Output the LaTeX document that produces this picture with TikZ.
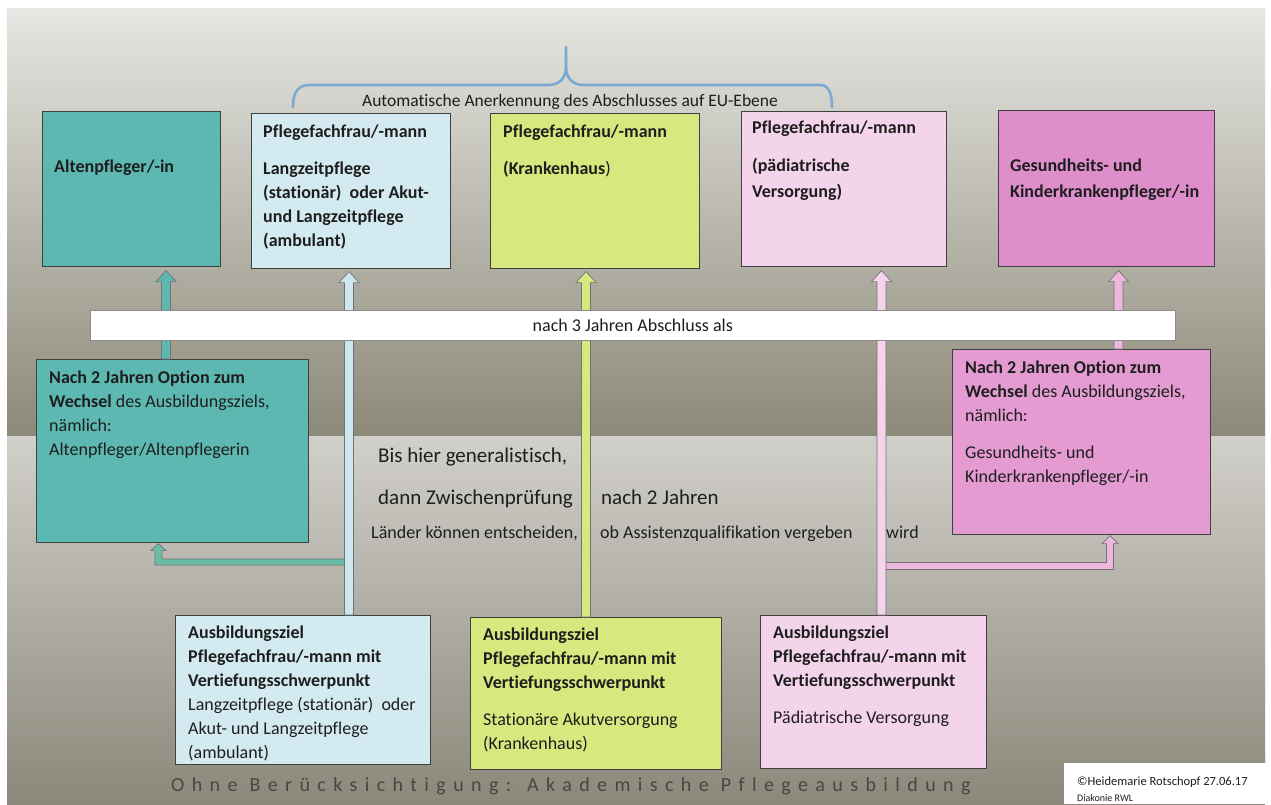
\documentclass[tikz,border=0pt]{standalone}
\usepackage{fontspec}
\setmainfont{Carlito}[Ligatures={TeX,NoCommon}]
\usetikzlibrary{positioning,calc}

\definecolor{bgTop}{HTML}{E6E6E2}
\definecolor{bgMid}{HTML}{C6C2B6}
\definecolor{bgBot}{HTML}{8D8979}
\definecolor{lowTop}{HTML}{EFEFEC}
\definecolor{lowMid}{HTML}{D3D1CA}
\definecolor{lowBot}{HTML}{8C887B}
\definecolor{tealC}{HTML}{5DB8B1}
\definecolor{tealA}{HTML}{68BFA9}
\definecolor{blueC}{HTML}{D4EAF1}
\definecolor{blueA}{HTML}{CDE7EE}
\definecolor{limeC}{HTML}{D6E87E}
\definecolor{pinkL}{HTML}{F4D4EA}
\definecolor{pinkD}{HTML}{DE8FCB}
\definecolor{pinkM}{HTML}{E49BD2}
\definecolor{pinkA}{HTML}{EDB6DD}
\definecolor{braceC}{HTML}{7AAAD2}
\definecolor{textC}{HTML}{1E1E1E}
\definecolor{ohneC}{HTML}{4A4640}

\tikzset{
  box/.style={draw=black!75, line width=0.6pt, anchor=north west, inner sep=0pt},
  txt/.style={font=\fontsize{18}{24}\selectfont, text=textC, inner sep=0pt, align=left,
    execute at begin node={\strut}},
  mid/.style={txt, font=\fontsize{21}{24}\selectfont},
  brace/.style={draw=braceC, line width=2.6pt, line cap=round},
  % block arrow going up, from start to tip
  uparr/.style={draw=black!55, line width=0.7pt, fill=#1, to path={
    let \p1=(\tikztostart), \p2=(\tikztotarget) in
    ({\x1-4.5pt},\y1) -- ({\x1-4.5pt},{\y2-11pt}) -- ({\x1-10pt},{\y2-11pt}) -- (\x1,\y2)
    -- ({\x1+10pt},{\y2-11pt}) -- ({\x1+4.5pt},{\y2-11pt}) -- ({\x1+4.5pt},\y1) -- cycle}},
  % bent block arrows, first sideways then up
  lleft/.style={draw=black!55, line width=0.7pt, fill=#1, to path={
    let \p1=(\tikztostart), \p2=(\tikztotarget) in
    (\x1,{\y1+3pt}) -- ({\x2+3.5pt},{\y1+3pt}) -- ({\x2+3.5pt},{\y2-7pt}) -- ({\x2+7.5pt},{\y2-7pt})
    -- (\x2,\y2) -- ({\x2-7.5pt},{\y2-7pt}) -- ({\x2-3.5pt},{\y2-7pt}) -- ({\x2-3.5pt},{\y1-3pt})
    -- (\x1,{\y1-3pt}) -- cycle}},
  lright/.style={draw=black!55, line width=0.7pt, fill=#1, to path={
    let \p1=(\tikztostart), \p2=(\tikztotarget) in
    (\x1,{\y1+3.5pt}) -- ({\x2-3.5pt},{\y1+3.5pt}) -- ({\x2-3.5pt},{\y2-8pt}) -- ({\x2-8pt},{\y2-8pt})
    -- (\x2,\y2) -- ({\x2+8pt},{\y2-8pt}) -- ({\x2+3.5pt},{\y2-8pt}) -- ({\x2+3.5pt},{\y1-3.5pt})
    -- (\x1,{\y1-3.5pt}) -- cycle}},
}

\begin{document}
\begin{tikzpicture}[x=1pt,y=-1pt]
\useasboundingbox[fill=white] (0,0) rectangle (1271,804);
% background
\shade[top color=bgTop, middle color=bgMid, bottom color=bgBot] (7,8) rectangle (1265,436);
\shade[top color=lowTop, middle color=lowMid, bottom color=lowBot] (7,436) rectangle (1265,804);
\shade[left color=lowBot, middle color=lowTop, right color=lowBot, opacity=0.3] (7,436) rectangle (1265,804);

% upper row
\node[box, fill=tealC, minimum width=178pt, minimum height=155pt] (alt) at (42,111) {};
\node[box, fill=blueC, minimum width=199pt, minimum height=155pt] (pfl) at (251,113) {};
\node[box, fill=limeC, minimum width=209pt, minimum height=155pt] (kh) at (490,113) {};
\node[box, fill=pinkL, minimum width=205pt, minimum height=155pt] (paed) at (741,111) {};
\node[box, fill=pinkD, minimum width=216pt, minimum height=156pt] (gkk) at (998,110) {};

% option boxes
\node[box, fill=tealC, minimum width=272pt, minimum height=183pt] (opt1) at (36,359) {};
\node[box, fill=pinkM, minimum width=258pt, minimum height=185pt] (opt2) at (952,349) {};

% lower row
\node[box, fill=blueC, minimum width=255pt, minimum height=149pt] (aus1) at (175,615) {};
\node[box, fill=limeC, minimum width=251pt, minimum height=152pt] (aus2) at (470,617) {};
\node[box, fill=pinkL, minimum width=226pt, minimum height=153pt] (aus3) at (760,615) {};

% arrow positions
\coordinate (a1) at (166,0);
\coordinate (a2) at (349,0);
\coordinate (a3) at (586,0);
\coordinate (a4) at (881.5,0);
\coordinate (a5) at (1118.5,0);
\coordinate (j1) at (349,562);
\coordinate (j2) at (881.5,566);

\draw[lleft=tealA] (j1) to ($(opt1.south west)+(122.5,1)$);
\draw[lright=pinkA] (j2) to ($(opt2.south west)+(158,1)$);

\draw[uparr=tealC] (a1 |- opt1.north) to ($(a1 |- alt.south)+(0,4)$);
\draw[uparr=blueA] (a2 |- aus1.north) to ($(a2 |- pfl.south)+(0,3)$);
\draw[uparr=limeC] (a3 |- aus2.north) to ($(a3 |- kh.south)+(0,3)$);
\draw[uparr=pinkL] (a4 |- aus3.north) to ($(a4 |- paed.south)+(0,4)$);
\draw[uparr=pinkA] (a5 |- opt2.north) to ($(a5 |- gkk.south)+(0,4)$);

% bar
\node[box, fill=white, draw=black!45, minimum width=1085pt, minimum height=30pt,
      font=\fontsize{18}{24}\selectfont, text=textC] (bar) at (90,310) {nach 3 Jahren Abschluss als};

% brace
\draw[brace] (293,107) .. controls (293,92) and (298,85) .. (310,85) -- (548,85)
  .. controls (560,85) and (566,78) .. (566,66) -- (566,47);
\draw[brace] (566,66) .. controls (566,78) and (572,85) .. (584,85) -- (820,85)
  .. controls (828,85) and (832,92) .. (832,107);
\node[txt, font=\fontsize{17.5}{20}\selectfont, anchor=base] (eu) at (570,106)
  {Automatische Anerkennung des Abschlusses auf EU-Ebene};

% box texts
\node[txt, below right=44.2pt and 12pt of alt.north west] (altT)
  {\textbf{Altenpfleger/-in}};
\node[txt, below right=12pt and 12pt of pfl.north west] (pflT)
  {\textbf{Pflegefachfrau/-mann}\\[13pt]\textbf{Langzeitpflege}\\\textbf{(stationär)\ \ oder Akut-}\\
   \textbf{und Langzeitpflege}\\\textbf{(ambulant)}};
\node[txt, below right=12pt and 13pt of kh.north west] (khT)
  {\textbf{Pflegefachfrau/-mann}\\[13pt]\textbf{(Krankenhaus})};
\node[txt, below right=10pt and 11pt of paed.north west] (paedT)
  {\textbf{Pflegefachfrau/-mann}\\[14pt]\textbf{(pädiatrische}\\[2pt]\textbf{Versorgung)}};
\node[txt, below right=49pt and 12pt of gkk.north west] (gkkT)
  {\textbf{Gesundheits- und}\\[2pt]\textbf{Kinderkrankenpfleger/-in}};

\node[txt, below right=12pt and 13pt of opt1.north west] (opt1T)
  {\textbf{Nach 2 Jahren Option zum}\\\textbf{Wechsel} des Ausbildungsziels,\\nämlich:\\
   Altenpfleger/Altenpflegerin};
\node[txt, below right=12pt and 13pt of opt2.north west] (opt2T)
  {\textbf{Nach 2 Jahren Option zum}\\\textbf{Wechsel} des Ausbildungsziels,\\nämlich:\\[13pt]
   Gesundheits- und\\Kinderkrankenpfleger/-in};

\node[txt, below right=11pt and 13pt of aus1.north west] (aus1T)
  {\textbf{Ausbildungsziel}\\\textbf{Pflegefachfrau/-mann mit}\\\textbf{Vertiefungsschwerpunkt}\\
   Langzeitpflege (stationär)\ \ oder\\Akut- und Langzeitpflege\\(ambulant)};
\node[txt, below right=11pt and 13pt of aus2.north west] (aus2T)
  {\textbf{Ausbildungsziel}\\\textbf{Pflegefachfrau/-mann mit}\\\textbf{Vertiefungsschwerpunkt}\\[13pt]
   Stationäre Akutversorgung\\(Krankenhaus)};
\node[txt, below right=11pt and 13pt of aus3.north west] (aus3T)
  {\textbf{Ausbildungsziel}\\\textbf{Pflegefachfrau/-mann mit}\\\textbf{Vertiefungsschwerpunkt}\\[13pt]
   Pädiatrische Versorgung};

% middle texts
\node[mid, anchor=base west] (gen) at (378,462) {Bis hier generalistisch,};
\node[mid, anchor=base west] (zwp) at (378,504) {dann Zwischenprüfung};
\node[mid, anchor=base west] (n2j) at (601,504) {nach 2 Jahren};
\node[txt, anchor=base west] (laend) at (371,538) {Länder können entscheiden,};
\node[txt, anchor=base west] (assq) at (600,538) {ob Assistenzqualifikation vergeben};
\node[txt, anchor=base west] (wird) at (886,538) {wird};

% bottom line
\node[anchor=base west, inner sep=0pt, text=ohneC,
      font=\fontsize{20}{24}\selectfont\addfontfeature{LetterSpace=37}] (ohne) at (171,791)
  {Ohne Berücksichtigung: Akademische Pflegeausbildung};

% copyright
\node[fill=white, anchor=north west, minimum width=207pt, minimum height=41pt, inner sep=0pt] (cbox) at (1064,763) {};
\node[txt, font=\fontsize{12.5}{14}\selectfont, anchor=base west] (copy) at (1077,785)
  {©Heidemarie Rotschopf 27.06.17};
\node[txt, font=\fontsize{10}{12}\selectfont, anchor=base west] (diak) at (1077,801) {Diakonie RWL};
\end{tikzpicture}
\end{document}
